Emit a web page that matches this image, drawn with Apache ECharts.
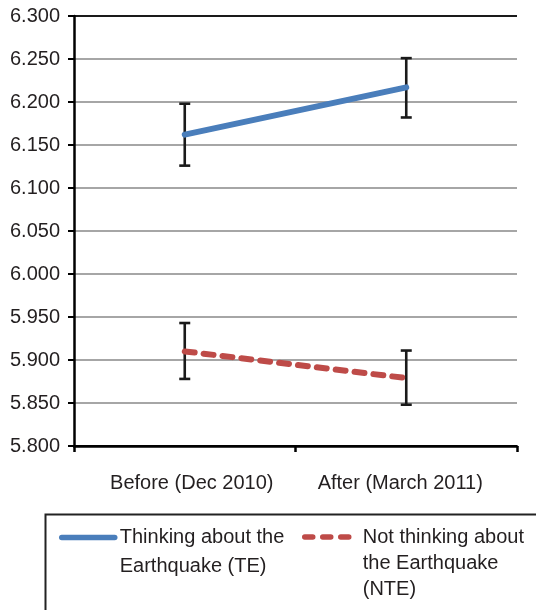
<!DOCTYPE html>
<html>
<head>
<meta charset="utf-8">
<script src="https://cdn.jsdelivr.net/npm/echarts@6/dist/echarts.min.js"></script>
<style>html,body{margin:0;padding:0;background:#fff;}#c{width:536px;height:610px;}</style>
</head>
<body>
<div id="c"></div>
<script>
const categories = ['Before (Dec 2010)', 'After (March 2011)'];
const teName = 'Thinking about the\nEarthquake (TE)';
const nteName = 'Not thinking about\nthe Earthquake\n(NTE)';
const teValues = [6.162, 6.217];
const teLow = [6.126, 6.182];
const teHigh = [6.198, 6.251];
const nteValues = [5.910, 5.879];
const nteLow = [5.878, 5.848];
const nteHigh = [5.943, 5.911];
const yMin = 5.8, yMax = 6.3, yStep = 0.05;

const font = 'Liberation Sans, Arial, sans-serif';
const textColor = '#231f20';

function errData(low, high) {
  return categories.map((c, i) => [i, low[i], high[i]]);
}
function renderErr(params, api) {
  const x = api.value(0);
  const lo = api.coord([x, api.value(1)]);
  const hi = api.coord([x, api.value(2)]);
  const cap = 5.5;
  const st = {stroke: '#1a1a1a', lineWidth: 2.6};
  return {
    type: 'group',
    children: [
      {type: 'line', shape: {x1: lo[0], y1: lo[1], x2: hi[0], y2: hi[1]}, style: st},
      {type: 'line', shape: {x1: lo[0] - cap, y1: lo[1], x2: lo[0] + cap, y2: lo[1]}, style: st},
      {type: 'line', shape: {x1: hi[0] - cap, y1: hi[1], x2: hi[0] + cap, y2: hi[1]}, style: st}
    ]
  };
}

const gridColors = ['#000'];
for (let i = 1; i < 10; i++) gridColors.push('#a6a6a6');
gridColors.push('#1a1a1a');

const chart = echarts.init(document.getElementById('c'), null, {renderer: 'canvas'});
chart.setOption({
  animation: false,
  backgroundColor: '#fff',
  grid: {left: 74, right: 19, top: 16, bottom: 164, containLabel: false},
  xAxis: {
    type: 'category',
    data: categories,
    boundaryGap: true,
    axisLine: {lineStyle: {color: '#000', width: 2.5}},
    axisTick: {show: true, interval: 0, length: 6, lineStyle: {color: '#000', width: 2.5}},
    axisLabel: {
      interval: 0,
      hideOverlap: false,
      fontFamily: font, fontSize: 20, color: textColor, margin: 27,
      formatter: (v, i) => (i === 0 ? '{a|' : '{b|') + v + '}',
      rich: {
        a: {fontFamily: font, fontSize: 20, color: textColor, padding: [0, 0, 0, 14]},
        b: {fontFamily: font, fontSize: 20, color: textColor, padding: [0, 12, 0, 0]}
      }
    }
  },
  yAxis: {
    type: 'value',
    min: yMin, max: yMax, interval: yStep,
    axisLine: {show: true, lineStyle: {color: '#000', width: 2.5}},
    axisTick: {show: true, length: 6, lineStyle: {color: '#000', width: 2}},
    axisLabel: {fontFamily: font, fontSize: 20, color: textColor, margin: 14,
      formatter: v => v.toFixed(3)},
    splitLine: {show: true, lineStyle: {color: gridColors, width: 2}}
  },
  legend: [
    {
      data: [teName],
      formatter: n => '\n' + n,
      left: 54, top: 489, padding: 5,
      itemWidth: 53, itemHeight: 14,
      itemStyle: {color: 'rgba(0,0,0,0)', opacity: 0, borderWidth: 0},
      lineStyle: {width: 5.5, cap: 'round'},
      textStyle: {fontFamily: font, fontSize: 20, color: textColor, lineHeight: 29}
    },
    {
      data: [nteName],
      formatter: n => '\n\n' + n,
      left: 297, top: 467, padding: 5,
      itemWidth: 53, itemHeight: 14,
      itemStyle: {color: 'rgba(0,0,0,0)', opacity: 0, borderWidth: 0},
      lineStyle: {width: 5.5, type: [8, 10], cap: 'round'},
      textStyle: {fontFamily: font, fontSize: 20, color: textColor, lineHeight: 26}
    }
  ],
  graphic: [
    {type: 'rect', left: 43, top: 512, shape: {x: 0, y: 0, width: 520, height: 130},
     style: {fill: 'none', stroke: '#222', lineWidth: 2}, z: 0}
  ],
  series: [
    {type: 'custom', name: 'TE error', data: errData(teLow, teHigh), renderItem: renderErr, z: 1, silent: true},
    {type: 'custom', name: 'NTE error', data: errData(nteLow, nteHigh), renderItem: renderErr, z: 1, silent: true},
    {
      type: 'line', name: teName, data: teValues, symbol: 'none', z: 3,
      lineStyle: {color: '#4a7ebb', width: 6, cap: 'round'},
      itemStyle: {color: '#4a7ebb'}
    },
    {
      type: 'line', name: nteName, data: nteValues, symbol: 'none', z: 3,
      lineStyle: {color: '#be4b48', width: 6, type: [10, 9], cap: 'round'},
      itemStyle: {color: '#be4b48'}
    }
  ]
});
</script>
</body>
</html>
